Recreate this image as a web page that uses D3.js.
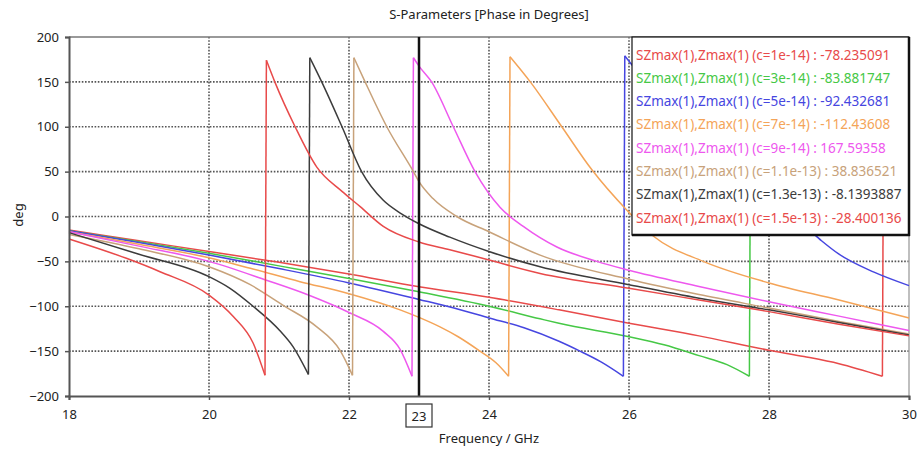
<!DOCTYPE html>
<html>
<head>
<meta charset="utf-8">
<script src="https://cdn.jsdelivr.net/npm/d3@7"></script>
<style>
body { margin: 0; background: #fff; }
svg text { font-family: "Noto Sans", "Liberation Sans", sans-serif; }
</style>
</head>
<body>
<div id="chart"></div>
<script>
var width = 919, height = 453;
var mLeft = 69, mRight = 909, mTop = 37, mBottom = 396;

var xTicks = [18, 20, 22, 24, 26, 28, 30]
var yTicks = [200, 150, 100, 50, 0, -50, -100, -150, -200]
var markerFreq = 23

var seriesNames = ["c=1e-14", "c=3e-14", "c=5e-14", "c=7e-14", "c=9e-14", "c=1.1e-13", "c=1.3e-13", "c=1.5e-13"]
var markerValues = ["-78.235091", "-83.881747", "-92.432681", "-112.43608", "167.59358", "38.836521", "-8.1393887", "-28.400136"]
var colors = ["#e84a4a", "#46c846", "#4646e0", "#f4a458", "#ee58ee", "#c8a27a", "#3c3c3c", "#e84a4a"]

// [frequency GHz, phase deg]
var c1e14 = [[18,-15],[19,-27],[20,-39],[21,-51],[22,-64],[23,-78.2],[24,-90],[25,-104],[26,-119],[27,-133],[28,-149],[28.5,-156],[29,-164],[29.62,-178],[29.64,176],[30,140]]
var c3e14 = [[18,-16],[19,-28],[20,-41],[21,-55],[22,-69],[23,-83.9],[24,-100],[24.73,-114],[25,-119],[26,-134],[26.5,-143],[27,-155],[27.4,-165],[27.72,-178],[27.74,178],[28,152],[28.5,110],[29,76],[29.5,50],[30,28]]
var c5e14 = [[18,-16],[19,-29],[20,-43],[21,-58],[22,-74],[23,-92.4],[23.5,-102],[24,-113],[24.5,-124],[25,-139],[25.3,-150],[25.6,-162],[25.92,-178],[25.94,179],[26.5,125],[27,80],[27.5,42],[28,12],[28.5,-10],[28.75,-27],[29,-42],[29.5,-62],[30,-77]]
var c7e14 = [[18,-17],[19,-31],[20,-46],[20.59,-57.7],[21.3,-72.6],[22,-86],[22.73,-104],[23,-112.4],[23.3,-123],[23.56,-134],[23.87,-150],[24.1,-163],[24.28,-178],[24.3,178],[24.59,150],[25.04,100],[25.47,52],[25.97,7],[26.35,-22],[27.06,-50],[28,-74],[29,-93],[30,-113]]
var c9e14 = [[18,-17],[19,-33],[20,-50],[20.82,-71],[21.42,-87.5],[22,-107],[22.49,-128],[22.73,-148],[22.9,-178],[22.92,177],[23,167.6],[23.18,150],[23.49,100],[23.8,50],[24.16,10],[24.49,-11],[24.97,-34],[25.54,-50],[26,-60],[27,-78],[28,-95],[29,-111],[30,-127]]
var c11e14 = [[18,-20],[19,-36],[20,-56],[20.59,-76],[21.06,-99],[21.54,-123],[21.87,-149],[22.05,-177],[22.07,177],[22.23,150],[22.54,100],[22.92,50],[23,38.8],[23.2,20],[23.54,0],[24,-17],[24.73,-43],[26,-70],[27,-87],[28,-102],[29,-117],[30,-131]]
var c13e14 = [[18,-18],[19,-42],[20,-67],[20.3,-80],[20.63,-100],[21.01,-127],[21.2,-145],[21.42,-176],[21.44,177],[21.61,150],[21.9,100],[22.18,50],[22.49,18],[22.75,3],[23,-8.1],[23.44,-23],[24,-39],[24.73,-56],[26,-76],[27,-91],[28,-104],[29,-118],[30,-132]]
var c15e14 = [[18,-25],[18.82,-46.6],[19.3,-61.5],[20,-87.5],[20.35,-111.6],[20.63,-141],[20.8,-177],[20.82,174],[20.94,150],[21.23,100],[21.54,55],[21.9,28],[22.16,11],[22.49,-11],[23,-28.4],[23.44,-37],[24,-48.5],[24.73,-63.4],[26,-80],[27,-93],[28,-106],[29,-120],[30,-133]]

var seriesData = [c1e14, c3e14, c5e14, c7e14, c9e14, c11e14, c13e14, c15e14]

var svg = d3.select("#chart").append("svg")
    .attr("width", width)
    .attr("height", height)

svg.append("rect").attr("width", width).attr("height", height).attr("fill", "#fff")

var xScale = d3.scaleLinear().domain([18, 30]).range([mLeft, mRight])
var yScale = d3.scaleLinear().domain([-200, 200]).range([mBottom, mTop])

//Title
svg.append("text")
    .attr("x", (mLeft + mRight) / 2)
    .attr("y", 19)
    .attr("text-anchor", "middle")
    .style("font-size", "13px")
    .attr("fill", "#222")
    .text("S-Parameters [Phase in Degrees]")

//Grid
var grid = svg.append("g")
grid.selectAll(".vgrid")
    .data(xTicks.filter(d => d > 18 && d < 30))
    .enter().append("line")
    .attr("x1", d => xScale(d)).attr("x2", d => xScale(d))
    .attr("y1", mTop).attr("y2", mBottom)
    .attr("stroke", "#555").attr("stroke-width", 1.6).attr("stroke-dasharray", "1.6,1.6")
grid.selectAll(".hgrid")
    .data(yTicks.filter(d => d > -200 && d < 200))
    .enter().append("line")
    .attr("x1", mLeft).attr("x2", mRight)
    .attr("y1", d => yScale(d)).attr("y2", d => yScale(d))
    .attr("stroke", "#555").attr("stroke-width", 1.6).attr("stroke-dasharray", "1.6,1.6")

//Frame
svg.append("line").attr("x1", mLeft).attr("x2", mRight).attr("y1", mTop).attr("y2", mTop).attr("stroke", "#777").attr("stroke-width", 1.5)
svg.append("line").attr("x1", mRight).attr("x2", mRight).attr("y1", mTop).attr("y2", mBottom).attr("stroke", "#aaa").attr("stroke-width", 1.5)

//Curves, split at the phase wraps
var line = d3.line().x(d => xScale(d[0])).y(d => yScale(d[1])).curve(d3.curveMonotoneX)
var curves = svg.append("g")
seriesData.forEach(function(data, i){
    var parts = [[data[0]]]
    for(var k = 1; k < data.length; k++){
        if(Math.abs(data[k][1] - data[k-1][1]) > 180){
            curves.append("line")
                .attr("x1", xScale(data[k-1][0])).attr("y1", yScale(data[k-1][1]))
                .attr("x2", xScale(data[k][0])).attr("y2", yScale(data[k][1]))
                .attr("stroke", colors[i]).attr("stroke-width", 1.5)
            parts.push([])
        }
        parts[parts.length-1].push(data[k])
    }
    parts.forEach(function(p){
        curves.append("path")
            .datum(p)
            .attr("d", line)
            .attr("fill", "none")
            .attr("stroke", colors[i])
            .attr("stroke-width", 1.5)
    })
})

//Marker
svg.append("line")
    .attr("x1", xScale(markerFreq)).attr("x2", xScale(markerFreq))
    .attr("y1", mTop).attr("y2", mBottom)
    .attr("stroke", "#111").attr("stroke-width", 2.5)

//Axes
var xAxis = svg.append("g")
    .attr("transform", "translate(0," + mBottom + ")")
    .call(d3.axisBottom(xScale).tickValues(xTicks).tickSize(4).tickPadding(10).tickFormat(d3.format("d")))
var yAxis = svg.append("g")
    .attr("transform", "translate(" + mLeft + ",0)")
    .call(d3.axisLeft(yScale).tickValues(yTicks).tickSize(4).tickPadding(6).tickFormat(d3.format("d")))
;[xAxis, yAxis].forEach(function(a){
    a.select(".domain").attr("stroke", "#555").attr("stroke-width", 2)
    a.selectAll(".tick line").attr("stroke", "#555").attr("stroke-width", 1.5)
    a.selectAll("text").style("font-size", "13px").attr("fill", "#222").style("font-family", "Noto Sans")
})

//Marker label
var mx = xScale(markerFreq)
svg.append("rect")
    .attr("x", mx - 13).attr("y", 404).attr("width", 26).attr("height", 23)
    .attr("fill", "#fff").attr("stroke", "#333").attr("stroke-width", 1.2)
svg.append("text")
    .attr("x", mx).attr("y", 420.5)
    .attr("text-anchor", "middle")
    .style("font-size", "13px").attr("fill", "#222")
    .text(markerFreq)

//Axis titles
svg.append("text")
    .attr("x", (mLeft + mRight) / 2)
    .attr("y", 443)
    .attr("text-anchor", "middle")
    .style("font-size", "13px").attr("fill", "#222")
    .text("Frequency / GHz")
svg.append("text")
    .attr("transform", "translate(23,215) rotate(-90)")
    .attr("text-anchor", "middle")
    .style("font-size", "13px").attr("fill", "#222")
    .text("deg")

//Legend
var lg = svg.append("g")
lg.append("rect")
    .attr("x", 632).attr("y", mTop).attr("width", mRight - 632).attr("height", 235 - mTop)
    .attr("fill", "#fff").attr("stroke", "#111").attr("stroke-width", 1.2)
lg.append("line").attr("x1", mRight).attr("x2", mRight).attr("y1", mTop).attr("y2", 236).attr("stroke", "#111").attr("stroke-width", 2.5)
lg.append("line").attr("x1", 632).attr("x2", mRight + 1).attr("y1", 235).attr("y2", 235).attr("stroke", "#111").attr("stroke-width", 2.5)
seriesNames.forEach(function(name, i){
    lg.append("text")
        .attr("x", 636)
        .attr("y", 59.5 + i * 23.3)
        .style("font-size", "13.5px")
        .attr("fill", colors[i])
        .text("SZmax(1),Zmax(1) (" + name + ") : " + markerValues[i])
})
</script>
</body>
</html>
